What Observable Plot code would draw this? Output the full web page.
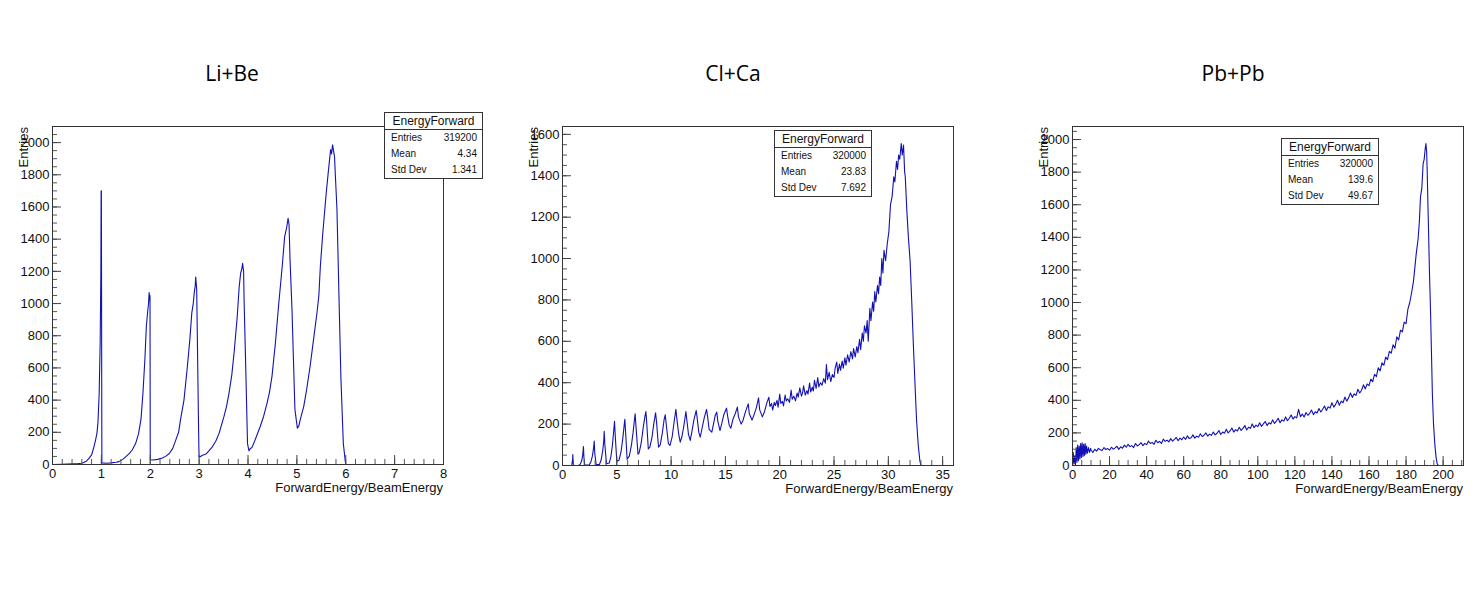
<!DOCTYPE html>
<html>
<head>
<meta charset="utf-8">
<script src="https://cdn.jsdelivr.net/npm/d3@7"></script>
<script src="https://cdn.jsdelivr.net/npm/@observablehq/plot@0.6"></script>
<style>
  html, body { margin: 0; padding: 0; background: #fff; }
  #figure { position: relative; width: 1478px; height: 592px; overflow: hidden; background: #fff; }
  .panel-svg { position: absolute; }
  .title { position: absolute; font-family: "Open Sans", sans-serif; font-size: 21px; color: #000; transform: translateX(-50%); white-space: nowrap; line-height: 26px; }
  .ylabel { position: absolute; font-family: "Liberation Sans", Arial, sans-serif; font-size: 13px; line-height: 14px; color: #111; white-space: nowrap; transform-origin: 0 0; transform: rotate(-90deg) translate(-100%, -50%); }
  .xlabel { position: absolute; font-family: "Liberation Sans", Arial, sans-serif; font-size: 13px; line-height: 16px; color: #111; white-space: nowrap; transform: translateX(-100%); }
  .stats { position: absolute; box-sizing: border-box; border: 1px solid #333; background: #fff; font-family: "Liberation Sans", Arial, sans-serif; color: #111; }
  .stats .head { font-size: 12px; text-align: center; border-bottom: 1px solid #333; box-sizing: border-box; }
  .stats .row { display: flex; justify-content: space-between; font-size: 10px; padding: 0 5px 0 6px; }
</style>
</head>
<body>
<div id="figure"></div>
<script>
// Histogram contents: [ForwardEnergy/BeamEnergy, entries]
const liBe = [
  [0,0],[0.2,2],[0.4,4],[0.5,5],[0.6,8],[0.65,14],[0.7,22],[0.75,40],[0.8,60],[0.85,112],[0.88,150],
  [0.91,195],[0.93,260],[0.955,440],[0.975,750],[0.99,1200],[0.995,1700],[1.0,1700],[1.01,10],[1.1,8],
  [1.2,10],[1.3,14],[1.36,18],[1.45,35],[1.57,68],[1.63,90],[1.7,130],[1.76,190],[1.81,280],[1.85,440],
  [1.89,652],[1.92,857],[1.95,960],[1.965,1000],[1.977,1068],[1.99,1020],[1.995,1050],[2.0,30],[2.05,28],
  [2.15,32],[2.25,40],[2.32,52],[2.39,68],[2.46,100],[2.52,150],[2.58,200],[2.62,280],[2.69,400],[2.76,610],
  [2.81,776],[2.85,942],[2.88,1000],[2.9,1066],[2.92,1110],[2.93,1165],[2.95,1090],[2.97,650],[2.985,300],
  [2.995,100],[3.0,45],[3.07,58],[3.14,65],[3.2,85],[3.27,110],[3.34,145],[3.41,195],[3.51,300],[3.56,360],
  [3.61,440],[3.67,560],[3.72,710],[3.78,920],[3.82,1106],[3.85,1190],[3.87,1210],[3.89,1250],[3.91,1200],
  [3.92,1020],[3.95,650],[3.99,130],[4.02,85],[4.05,100],[4.08,105],[4.12,133],[4.18,180],[4.25,236],
  [4.32,300],[4.39,381],[4.44,450],[4.49,546],[4.56,753],[4.63,1002],[4.7,1230],[4.75,1416],[4.79,1470],
  [4.82,1530],[4.84,1490],[4.86,1273],[4.9,963],[4.93,652],[4.96,342],[5.01,226],[5.04,240],[5.07,280],
  [5.14,360],[5.2,466],[5.27,609],[5.34,774],[5.41,940],[5.45,1050],[5.48,1230],[5.53,1437],[5.6,1685],
  [5.64,1809],[5.69,1956],[5.71,1930],[5.73,1987],[5.75,1950],[5.77,1913],[5.79,1780],[5.82,1584],
  [5.86,1064],[5.9,546],[5.95,132],[5.99,20],[6.0,0],[8.0,0]
];

const clCa = [
  [0,0],[0.85,0],[0.93,30],[0.95,53],[0.98,10],[1.05,0],[1.5,0],[1.65,8],[1.78,25],[1.87,55],[1.93,92],
  [1.97,40],[2.05,2],[2.45,2],[2.6,15],[2.75,45],[2.85,80],[2.92,118],[2.97,60],[3.1,4],[3.4,5],[3.55,25],
  [3.7,70],[3.8,120],[3.84,165],[3.9,100],[4.05,8],[4.3,12],[4.45,40],[4.6,100],[4.72,170],[4.79,213],
  [4.85,150],[5.0,20],[5.2,25],[5.4,70],[5.55,130],[5.67,190],[5.74,223],[5.8,170],[5.95,30],[6.15,45],
  [6.35,100],[6.5,160],[6.62,220],[6.69,250],[6.75,200],[6.95,55],[7.05,60],[7.25,110],[7.45,190],
  [7.6,240],[7.68,261],[7.75,210],[7.9,80],[8.05,90],[8.25,140],[8.4,200],[8.57,255],[8.65,215],[8.84,89],
  [9.0,100],[9.2,160],[9.35,220],[9.46,245],[9.55,200],[9.75,105],[9.9,97],[10.1,140],[10.3,220],
  [10.44,271],[10.52,230],[10.7,150],[10.84,113],[11.0,140],[11.2,200],[11.36,261],[11.45,220],[11.6,150],
  [11.76,121],[11.9,160],[12.1,220],[12.31,266],[12.4,230],[12.55,160],[12.68,137],[12.85,180],[13.05,230],
  [13.26,271],[13.35,240],[13.5,175],[13.75,161],[13.9,200],[14.05,240],[14.2,258],[14.3,215],[14.5,169],
  [14.65,200],[14.85,245],[15.1,277],[15.2,240],[15.35,195],[15.5,180],[15.7,225],[15.9,250],[16.1,282],
  [16.2,235],[16.45,200],[16.6,215],[16.85,260],[17.1,298],[17.2,250],[17.45,220],[17.6,240],[17.85,280],
  [18.05,327],[18.15,270],[18.4,235],[18.6,260],[18.8,300],[19.0,330],[19.1,285],[19.25,300],[19.35,268],
  [19.5,305],[19.6,290],[19.75,315],[19.85,282],[20.0,345],[20.1,300],[20.25,310],[20.35,288],[20.5,340],
  [20.6,312],[20.75,322],[20.9,305],[21.05,365],[21.15,320],[21.3,335],[21.45,312],[21.6,350],[21.7,330],
  [21.85,375],[22.0,335],[22.1,350],[22.2,385],[22.35,340],[22.5,362],[22.6,345],[22.75,398],[22.85,355],
  [23.0,378],[23.1,360],[23.2,412],[23.35,372],[23.5,425],[23.6,380],[23.75,400],[23.9,388],[24.05,420],
  [24.2,398],[24.3,488],[24.4,415],[24.55,450],[24.7,405],[24.85,440],[25.0,425],[25.1,470],[25.25,500],
  [25.35,445],[25.5,490],[25.6,460],[25.75,505],[25.85,470],[26.0,520],[26.1,485],[26.25,535],[26.4,500],
  [26.55,550],[26.7,515],[26.8,565],[26.95,525],[27.1,575],[27.2,545],[27.35,610],[27.45,560],[27.6,640],
  [27.7,600],[27.8,675],[27.95,640],[28.05,700],[28.15,600],[28.3,760],[28.4,700],[28.55,790],[28.65,745],
  [28.75,840],[28.85,790],[29.0,870],[29.1,830],[29.2,910],[29.3,870],[29.4,1000],[29.5,930],[29.6,1040],
  [29.75,990],[29.9,1070],[30.05,1130],[30.2,1260],[30.35,1300],[30.5,1395],[30.6,1370],[30.75,1470],
  [30.85,1430],[30.95,1500],[31.05,1480],[31.19,1556],[31.28,1500],[31.4,1548],[31.5,1420],[31.56,1395],
  [31.7,1234],[31.85,1100],[32.0,992],[32.15,800],[32.3,589],[32.45,400],[32.6,218],[32.75,100],[32.9,24],
  [33.0,0],[36,0]
];

const pbPb = [
  [0,0],[0.4,80],[0.8,10],[1.2,60],[1.6,5],[2.0,110],[2.4,20],[2.8,125],[3.2,30],[3.6,120],[4.0,40],
  [4.4,135],[4.8,50],[5.2,140],[5.6,55],[6.0,130],[6.4,60],[6.8,135],[7.2,70],[7.6,120],[8.0,75],[8.6,110],
  [9.2,80],[9.8,105],[10,95],[11,80],[12,100],[13,88],[14,105],[15,96],[16,92],[17,110],[18,98],[19,104],
  [20,94],[21,112],[22,100],[23,108],[24,118],[25,99],[26,115],[27,106],[28,125],[29,112],[30,130],
  [31,116],[32,122],[33,110],[34,135],[35,120],[36,128],[37,140],[38,122],[39,136],[40,128],[41,150],
  [42,135],[43,142],[44,130],[45,155],[46,140],[47,148],[48,135],[49,162],[50,148],[51,156],[52,145],
  [53,165],[54,150],[55,160],[56,172],[57,152],[58,168],[59,158],[60,175],[61,160],[62,182],[63,165],
  [64,170],[65,188],[66,168],[67,180],[68,174],[69,195],[70,178],[71,186],[72,200],[73,180],[74,192],
  [75,185],[76,205],[77,188],[78,198],[79,215],[80,190],[81,205],[82,198],[83,222],[84,200],[85,212],
  [86,230],[87,205],[88,220],[89,212],[90,235],[91,215],[92,228],[93,245],[94,218],[95,235],[96,228],
  [97,255],[98,232],[99,248],[100,238],[101,262],[102,240],[103,255],[104,270],[105,245],[106,262],
  [107,255],[108,280],[109,258],[110,272],[111,290],[112,262],[113,280],[114,272],[115,298],[116,275],
  [117,290],[118,310],[119,285],[120,300],[121,292],[122,345],[123,300],[124,315],[125,298],[126,325],
  [127,308],[128,320],[129,340],[130,312],[131,330],[132,322],[133,350],[134,328],[135,345],[136,365],
  [137,338],[138,360],[139,352],[140,385],[141,358],[142,375],[143,400],[144,370],[145,395],[146,385],
  [147,420],[148,395],[149,415],[150,445],[151,418],[152,440],[153,430],[154,468],[155,445],[156,462],
  [157,495],[158,470],[159,500],[160,490],[161,530],[162,515],[163,560],[164,545],[165,600],[166,580],
  [167,630],[168,615],[169,665],[170,650],[171,700],[172,690],[173,740],[174,720],[175,790],[176,770],
  [177,830],[178,820],[179,880],[180,870],[181,960],[182,1000],[183,1060],[184,1130],[184.8,1220],
  [185.5,1300],[186.5,1390],[187.2,1500],[187.8,1650],[188.5,1700],[189.2,1850],[189.8,1880],[190.3,1940],
  [190.7,1975],[191.1,1930],[191.4,1810],[191.8,1600],[192.1,1462],[192.6,1200],[193.2,951],[193.7,700],
  [194.2,440],[194.8,260],[195.5,133],[196.2,50],[196.8,10],[197.5,0],[211,0]
];

// Titles, statistics and axis ticks
const titles = ["Li+Be", "Cl+Ca", "Pb+Pb"];
const statNames = ["Entries", "Mean", "Std Dev"];
const statValues = [
  ["319200", "4.34", "1.341"],
  ["320000", "23.83", "7.692"],
  ["320000", "139.6", "49.67"]
];
const xDomains = [[0, 8], [0, 36], [0, 211]];
const yDomains = [[0, 2100], [0, 1638], [0, 2080]];
const xMajorTicks = [
  [0, 1, 2, 3, 4, 5, 6, 7, 8],
  [0, 5, 10, 15, 20, 25, 30, 35],
  [0, 20, 40, 60, 80, 100, 120, 140, 160, 180, 200]
];
const xMinorSteps = [0.2, 1, 5];
const yMajorTicks = [
  [0, 200, 400, 600, 800, 1000, 1200, 1400, 1600, 1800, 2000],
  [0, 200, 400, 600, 800, 1000, 1200, 1400, 1600],
  [0, 200, 400, 600, 800, 1000, 1200, 1400, 1600, 1800, 2000]
];
const yMinorStep = 50;
const xTitle = "ForwardEnergy/BeamEnergy";
const yTitle = "Entries";
const histName = "EnergyForward";

const series = [liBe, clCa, pbPb];

// Layout of each pad: frame edges in page pixels, stats box placement
const frames = [
  {left: 52, top: 126, width: 391, height: 338},
  {left: 562, top: 126, width: 391, height: 339},
  {left: 1072, top: 126, width: 391, height: 339}
];
const statBoxes = [
  {left: 384, top: 112, width: 99, height: 67},
  {left: 774, top: 130, width: 98, height: 67},
  {left: 1281, top: 138, width: 98, height: 67}
];
const titleCenters = [232, 733, 1233];

const fig = document.getElementById("figure");
const M = {left: 48, right: 12, top: 10, bottom: 32};
const lineColor = "#1212b4";
const noLabel = () => "";

series.forEach((values, i) => {
  const f = frames[i];
  const data = values.map(([x, y]) => ({x, y}));
  const [x0, x1] = xDomains[i];
  const [y0, y1] = yDomains[i];
  const xMinor = d3.range(x0, x1 + 1e-9, xMinorSteps[i]).map(v => +v.toFixed(3));
  const yMinor = d3.range(y0, y1 + 1e-9, yMinorStep);

  const chart = Plot.plot({
    width: f.width + M.left + M.right,
    height: f.height + M.top + M.bottom,
    marginLeft: M.left, marginRight: M.right, marginTop: M.top, marginBottom: M.bottom,
    x: {domain: xDomains[i]},
    y: {domain: yDomains[i]},
    style: {
      fontFamily: "'Liberation Sans', Arial, sans-serif",
      fontSize: "13px",
      color: "#111",
      background: "transparent",
      overflow: "visible"
    },
    marks: [
      Plot.line(data, {x: "x", y: "y", stroke: lineColor, strokeWidth: 1.1}),
      // minor ticks point into the frame, without labels
      Plot.axisX({ticks: xMinor, tickSize: -5, tickFormat: noLabel, fill: "none", label: null, stroke: "#555"}),
      Plot.axisX({ticks: xMajorTicks[i], tickSize: -9, tickPadding: 13, tickFormat: d => String(d), label: null, stroke: "#444", fill: "#111"}),
      Plot.axisY({ticks: yMinor, tickSize: -5, tickFormat: noLabel, fill: "none", label: null, stroke: "#555"}),
      Plot.axisY({ticks: yMajorTicks[i], tickSize: -9, tickPadding: 12, tickFormat: d => String(d), label: null, stroke: "#444", fill: "#111"}),
      Plot.frame({stroke: "#333"})
    ]
  });
  chart.classList.add("panel-svg");
  chart.style.left = (f.left - M.left) + "px";
  chart.style.top = (f.top - M.top) + "px";
  fig.appendChild(chart);

  // pad title
  const t = document.createElement("div");
  t.className = "title";
  t.textContent = titles[i];
  t.style.left = titleCenters[i] + "px";
  t.style.top = "60px";
  fig.appendChild(t);

  // axis titles
  const yl = document.createElement("div");
  yl.className = "ylabel";
  yl.textContent = yTitle;
  yl.style.left = (f.left - 28) + "px";
  yl.style.top = (f.top + 1) + "px";
  fig.appendChild(yl);

  const xl = document.createElement("div");
  xl.className = "xlabel";
  xl.textContent = xTitle;
  xl.style.left = (f.left + f.width) + "px";
  xl.style.top = (f.top + f.height + 16) + "px";
  fig.appendChild(xl);

  // statistics box
  const b = statBoxes[i];
  const box = document.createElement("div");
  box.className = "stats";
  Object.assign(box.style, {left: b.left + "px", top: b.top + "px", width: b.width + "px", height: b.height + "px"});
  const headH = 17;
  const head = document.createElement("div");
  head.className = "head";
  head.textContent = histName;
  Object.assign(head.style, {height: headH + "px", lineHeight: (headH - 1) + "px"});
  box.appendChild(head);
  const rowH = (b.height - 2 - headH) / statNames.length;
  statNames.forEach((name, k) => {
    const r = document.createElement("div");
    r.className = "row";
    r.style.height = rowH + "px";
    r.style.lineHeight = rowH + "px";
    const a = document.createElement("span");
    a.textContent = name;
    const v = document.createElement("span");
    v.textContent = statValues[i][k];
    r.appendChild(a);
    r.appendChild(v);
    box.appendChild(r);
  });
  fig.appendChild(box);
});
</script>
</body>
</html>
